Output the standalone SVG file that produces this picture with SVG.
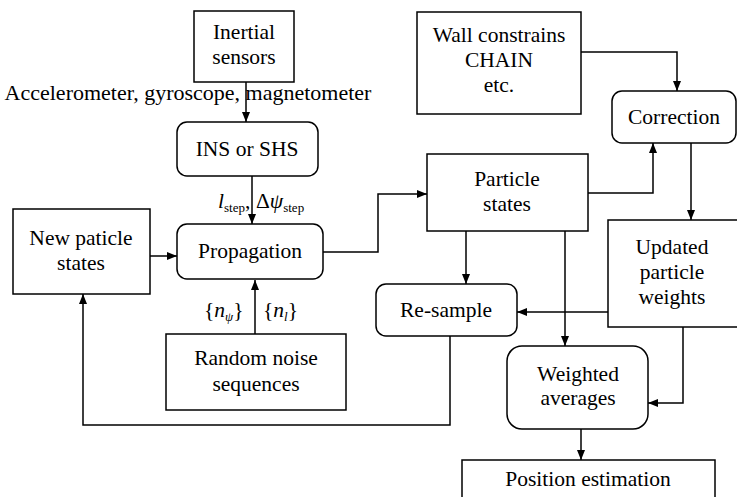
<svg xmlns="http://www.w3.org/2000/svg" width="737" height="497" viewBox="0 0 737 497" font-family="Liberation Serif, Times New Roman, serif">
<defs>
<style>
.b{fill:#fff;stroke:#000;stroke-width:1.5}
.c{fill:none;stroke:#000;stroke-width:1.5}
.t{font-family:'Liberation Serif','Times New Roman',serif;font-size:21.5px;fill:#000;text-anchor:middle}
.s{font-family:'Liberation Serif','Times New Roman',serif;font-size:21.5px;fill:#000}
</style>
<marker id="a" viewBox="0 0 10 8" refX="10" refY="4" markerWidth="10" markerHeight="8" markerUnits="userSpaceOnUse" orient="auto">
<path d="M0,0 L10,4 L0,8 Z" fill="#000"/>
</marker>
</defs>
<rect width="737" height="497" fill="#fff"/>
<g id="connectors">
<path class="c" d="M246,82 V122" marker-end="url(#a)"/>
<path class="c" d="M252,176 V224" marker-end="url(#a)"/>
<path class="c" d="M150,256 H177" marker-end="url(#a)"/>
<path class="c" d="M255,334 V280" marker-end="url(#a)"/>
<path class="c" d="M323,252 H378 V194 H427" marker-end="url(#a)"/>
<path class="c" d="M588,193 H653 V143" marker-end="url(#a)"/>
<path class="c" d="M581,52 H677 V91" marker-end="url(#a)"/>
<path class="c" d="M691,143 V220" marker-end="url(#a)"/>
<path class="c" d="M608,312 H517" marker-end="url(#a)"/>
<path class="c" d="M683,327 V403 H648" marker-end="url(#a)"/>
<path class="c" d="M466,231 V284" marker-end="url(#a)"/>
<path class="c" d="M565,231 V346" marker-end="url(#a)"/>
<path class="c" d="M581,429 V460" marker-end="url(#a)"/>
<path class="c" d="M450,336 V425 H83 V294" marker-end="url(#a)"/>
</g>
<g id="inertial">
<rect class="b" x="194" y="11" width="100" height="71"/>
<text class="t" x="244" y="39">Inertial</text>
<text class="t" x="244" y="64">sensors</text>
</g>
<text class="t" x="188" y="100" style="font-size:22px">Accelerometer, gyroscope, magnetometer</text>
<g id="ins">
<rect class="b" x="177" y="122" width="141" height="54" rx="10"/>
<text class="t" x="247" y="156">INS or SHS</text>
</g>
<text class="s" x="218" y="208"><tspan font-style="italic">l</tspan><tspan font-size="13" dy="4">step</tspan><tspan dy="-4">,</tspan><tspan x="256">Δ</tspan><tspan font-style="italic">ψ</tspan><tspan font-size="13" dy="4">step</tspan></text>
<g id="propagation">
<rect class="b" x="177" y="224" width="146" height="55" rx="10"/>
<text class="t" x="250" y="258">Propagation</text>
</g>
<g id="newparticle">
<rect class="b" x="13" y="209" width="137" height="85"/>
<text class="t" x="81" y="245">New paticle</text>
<text class="t" x="81" y="270">states</text>
</g>
<text class="s" x="204" y="317">{<tspan font-style="italic">n</tspan><tspan font-style="italic" font-size="13" dy="4">ψ</tspan><tspan dy="-4">}</tspan></text>
<text class="s" x="263" y="317">{<tspan font-style="italic">n</tspan><tspan font-style="italic" font-size="13" dy="4">l</tspan><tspan dy="-4">}</tspan></text>
<g id="random">
<rect class="b" x="166" y="334" width="180" height="76"/>
<text class="t" x="256" y="365">Random noise</text>
<text class="t" x="256" y="391">sequences</text>
</g>
<g id="particle">
<rect class="b" x="427" y="154" width="161" height="77"/>
<text class="t" x="507" y="186">Particle</text>
<text class="t" x="507" y="211">states</text>
</g>
<g id="wall">
<rect class="b" x="417" y="12" width="164" height="102"/>
<text class="t" x="499" y="42">Wall constrains</text>
<text class="t" x="499" y="67">CHAIN</text>
<text class="t" x="499" y="92">etc.</text>
</g>
<g id="correction">
<rect class="b" x="612" y="91" width="124" height="52" rx="10"/>
<text class="t" x="674" y="124">Correction</text>
</g>
<g id="updated">
<rect class="b" x="608" y="220" width="130" height="107"/>
<text class="t" x="672" y="254">Updated</text>
<text class="t" x="672" y="279">particle</text>
<text class="t" x="672" y="304">weights</text>
</g>
<g id="resample">
<rect class="b" x="376" y="284" width="141" height="52" rx="10"/>
<text class="t" x="446" y="317">Re-sample</text>
</g>
<g id="weighted">
<rect class="b" x="507" y="346" width="141" height="83" rx="15"/>
<text class="t" x="578" y="381">Weighted</text>
<text class="t" x="578" y="405">averages</text>
</g>
<g id="position">
<rect class="b" x="462" y="460" width="253" height="45"/>
<text class="t" x="588" y="486">Position estimation</text>
</g>
</svg>
